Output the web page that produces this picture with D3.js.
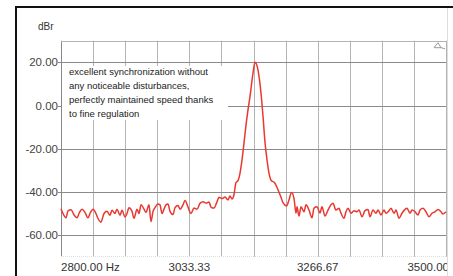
<!DOCTYPE html>
<html>
<head>
<meta charset="utf-8">
<script src="https://cdn.jsdelivr.net/npm/d3@7"></script>
<style>
  body { margin: 0; background: #fff; }
  text { font-family: "Liberation Sans", Arial, sans-serif; }
</style>
</head>
<body>
<svg id="chart" width="453" height="276"></svg>
<script>
// spectrum trace
var freqs = [2800, 2803.6, 2809.1, 2812.7, 2818.2, 2823.6, 2829.1, 2832.7, 2838.2, 2843.6,
  2849.1, 2852.7, 2858.2, 2863.6, 2867.3, 2872.7, 2878.2, 2883.6, 2889.1, 2892.7,
  2898.2, 2901.8, 2907.3, 2910.9, 2916.4, 2920, 2923.6, 2929.1, 2932.7, 2938.2,
  2941.8, 2945.5, 2950.9, 2954.5, 2960, 2963.6, 2967.3, 2970.9, 2976.4, 2980,
  2983.6, 2987.3, 2990.9, 2994.5, 2998.2, 3003.6, 3007.3, 3012.7, 3016.4, 3021.8,
  3025.5, 3030.9, 3036.4, 3041.8, 3047.3, 3052.7, 3058.2, 3063.6, 3069.1, 3072.7,
  3078.2, 3083.6, 3087.3, 3092.7, 3098.2, 3103.6, 3107.3, 3110.9, 3114.5, 3118.2,
  3121.8, 3125.5, 3129.1, 3132.7, 3136.4, 3140, 3143.6, 3149.1, 3152.7, 3158.2,
  3163.6, 3167.3, 3170.9, 3174.5, 3177.3, 3181.8, 3189.1, 3194.5, 3200, 3203.6,
  3210, 3214.5, 3219.1, 3223.6, 3227.3, 3229.1, 3232.7, 3236.4, 3241.8, 3245.5,
  3250.9, 3256.4, 3260, 3265.5, 3270.9, 3274.5, 3280, 3285.5, 3290.9, 3294.5,
  3300, 3305.5, 3309.1, 3314.5, 3318.2, 3321.8, 3327.3, 3332.7, 3338.2, 3341.8,
  3347.3, 3352.7, 3358.2, 3361.8, 3367.3, 3372.7, 3376.4, 3381.8, 3387.3, 3390.9,
  3396.4, 3400, 3405.5, 3409.1, 3414.5, 3420, 3425.5, 3429.1, 3434.5, 3438.2,
  3443.6, 3449.1, 3452.7, 3458.2, 3463.6, 3469.1, 3474.5, 3480, 3485.5, 3490.9,
  3494.5, 3500];
var levels = [-47.8, -50, -52, -48.8, -48.3, -50.6, -52, -50, -48, -49.5,
  -52, -50, -48, -50, -52.3, -54, -50, -49, -50.8, -48.5,
  -50, -48, -50.8, -48.5, -51.6, -50, -47.3, -49, -52.2, -48,
  -50, -46, -48, -49.5, -46, -53.8, -49, -47.3, -45.6, -46,
  -50, -48, -46, -45.6, -49, -50.5, -47.3, -46.3, -48, -46,
  -44, -47, -50, -47.5, -48, -45.3, -44.6, -45.2, -44.7, -47,
  -47.5, -44.6, -42.5, -43.1, -42.4, -43.7, -41.9, -43.3, -41.3, -35.7,
  -34.8, -31.3, -25.2, -17.4, -9, -2, 4.1, 15, 20, 16.4,
  5.8, -5, -17, -25, -30, -34.5, -36, -39, -42.5, -45,
  -46.5, -43.7, -40.3, -43, -49.8, -46.9, -51.2, -46.9, -49.2, -46,
  -48.4, -52, -47.5, -46.9, -49.8, -46.9, -51.2, -48.4, -46, -45.3,
  -48.4, -47.6, -49.9, -52.2, -49.2, -47.6, -49.9, -48.7, -49.2, -48.4,
  -51.5, -48.7, -48.1, -51.5, -48.4, -49.9, -48.4, -50.7, -48.4, -49.9,
  -48.7, -47.6, -49.9, -48.4, -52.2, -49.9, -48.1, -47.6, -49.9, -48.4,
  -49.2, -50.7, -48.4, -47.6, -49.2, -51.5, -49.9, -49.2, -48.1, -49.2,
  -50.2, -49.2];

var yTicks = [20, 0, -20, -40, -60];
var yTickLabels = ["20.00", "0.00", "-20.00", "-40.00", "-60.00"];
var xTicks = [2800, 3033.33, 3266.67, 3500];
var xTickLabels = ["2800.00 Hz", "3033.33", "3266.67", "3500.00"];
var yUnit = "dBr";
var note = ["excellent synchronization without",
  "any noticeable disturbances,",
  "perfectly maintained speed thanks",
  "to fine regulation"];

var svg = d3.select("#chart");
var plotLeft = 61, plotTop = 40.7, plotW = 385, plotH = 216;

var x = d3.scaleLinear().domain([2800, 3500]).range([plotLeft, plotLeft + plotW]);
var y = d3.scaleLinear().domain([-70, 30]).range([plotTop + plotH, plotTop]);

// page frame
svg.append("line").attr("x1", 16).attr("x2", 453).attr("y1", 7).attr("y2", 7)
  .attr("stroke", "#111").attr("stroke-width", 2);
svg.append("line").attr("x1", 16).attr("x2", 16).attr("y1", 6).attr("y2", 276)
  .attr("stroke", "#111").attr("stroke-width", 2);
svg.append("line").attr("x1", 447.5).attr("x2", 447.5).attr("y1", 8).attr("y2", 276)
  .attr("stroke", "#ddd").attr("stroke-width", 1);

svg.append("clipPath").attr("id", "clip")
  .append("rect").attr("x", 0).attr("y", 0).attr("width", 447).attr("height", 276);

var g = svg.append("g").attr("clip-path", "url(#clip)");

// vertical grid, 12 divisions
var vgrid = d3.range(0, 13).map(function (i) { return 2800 + i * 700 / 12; });
g.selectAll("line.vg").data(vgrid).enter().append("line")
  .attr("class", "vg")
  .attr("x1", function (d) { return Math.round(x(d)) + 0.5; })
  .attr("x2", function (d) { return Math.round(x(d)) + 0.5; })
  .attr("y1", y(30)).attr("y2", y(-70))
  .attr("stroke", function (d, i) { return i == 0 ? "#888" : "#b4b4b4"; })
  .attr("stroke-width", 1);

// horizontal grid
g.selectAll("line.hg").data(yTicks).enter().append("line")
  .attr("class", "hg")
  .attr("x1", x(2800) - 3).attr("x2", x(3500))
  .attr("y1", function (d) { return Math.round(y(d)) + 0.5; })
  .attr("y2", function (d) { return Math.round(y(d)) + 0.5; })
  .attr("stroke", "#8a8a8a").attr("stroke-width", 1);

g.append("line").attr("x1", x(2800)).attr("x2", x(3500))
  .attr("y1", Math.round(y(30)) + 0.5).attr("y2", Math.round(y(30)) + 0.5)
  .attr("stroke", "#b4b4b4");
g.append("line").attr("x1", x(2800)).attr("x2", x(3500))
  .attr("y1", Math.round(y(-70)) - 0.5).attr("y2", Math.round(y(-70)) - 0.5)
  .attr("stroke", "#ddd").attr("stroke-dasharray", "1,1");

// annotation box covers the grid
g.append("rect").attr("x", x(2800) + 1).attr("y", 66)
  .attr("width", 166).attr("height", 54).attr("fill", "#fff");

g.selectAll("text.note").data(note).enter().append("text")
  .attr("class", "note")
  .attr("x", 69)
  .attr("y", function (d, i) { return 74.5 + i * 14; })
  .attr("font-size", "9.5px")
  .attr("fill", "#222")
  .text(function (d) { return d; });

// y labels
g.selectAll("text.yl").data(yTicks).enter().append("text")
  .attr("class", "yl")
  .attr("x", x(2800) - 3)
  .attr("y", function (d) { return y(d); })
  .attr("dy", "0.35em")
  .attr("text-anchor", "end")
  .attr("font-size", "11.5px")
  .attr("fill", "#444")
  .text(function (d, i) { return yTickLabels[i]; });

g.append("text").attr("x", 38).attr("y", 29.5)
  .attr("font-size", "10px").attr("fill", "#333").text(yUnit);

// x labels
g.selectAll("text.xl").data(xTicks).enter().append("text")
  .attr("class", "xl")
  .attr("x", function (d, i) { return i == xTicks.length - 1 ? x(d) + 3 : x(d); })
  .attr("y", 271)
  .attr("text-anchor", function (d, i) {
    return i == 0 ? "start" : (i == xTicks.length - 1 ? "end" : "middle");
  })
  .attr("font-size", "11.5px")
  .attr("fill", "#333")
  .text(function (d, i) { return xTickLabels[i]; });

// small marker top right
var mx = x(3500) - 8, my = y(30) + 7;
g.append("path")
  .attr("d", "M" + (mx - 4) + "," + my + "L" + mx + "," + (my - 5) + "L" + (mx + 3) + "," + my + "Z M" + (mx + 3) + "," + my + "L" + (mx + 7) + "," + (my + 1))
  .attr("fill", "none").attr("stroke", "#999").attr("stroke-width", 1);

// trace
var pts = freqs.map(function (f, i) { return [f, levels[i]]; });
var line = d3.line()
  .x(function (d) { return x(d[0]); })
  .y(function (d) { return y(d[1]); })
  .curve(d3.curveMonotoneX);

g.append("path").datum(pts)
  .attr("d", line)
  .attr("fill", "none")
  .attr("stroke", "#e8382f")
  .attr("stroke-width", 1.5)
  .attr("stroke-linejoin", "round");
</script>
</body>
</html>
